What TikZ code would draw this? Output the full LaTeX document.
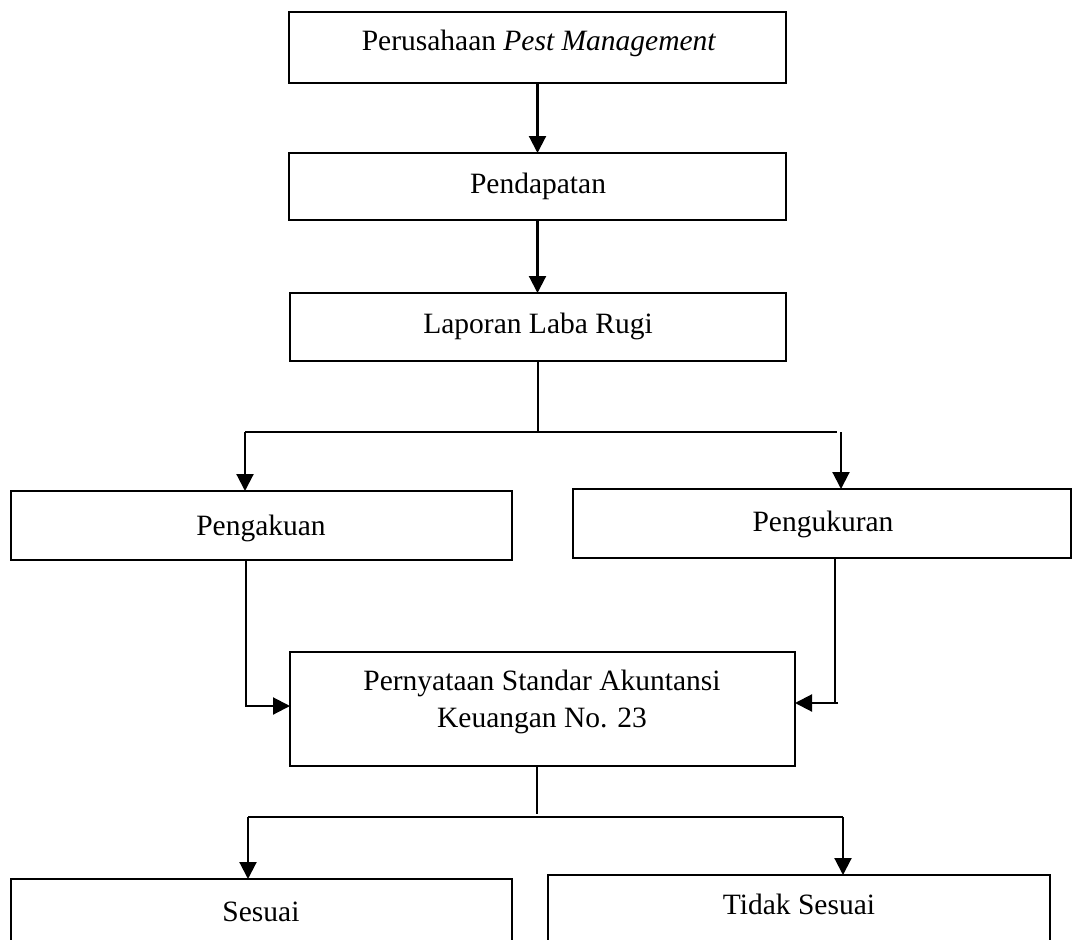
\documentclass[tikz,border=0pt]{standalone}
\usepackage{fontspec}
\setmainfont{Liberation Serif}
\usetikzlibrary{arrows.meta}
\tikzset{
  box/.style={draw, line width=2.4pt, inner sep=0pt, outer sep=0pt, rectangle},
  lbl/.style={anchor=base, inner sep=0pt, font=\fontsize{29.5}{34}\selectfont},
  conn/.style={line width=2.1pt},
  arr/.style={conn, -{Triangle[length=17pt,width=17pt]}}
}
\begin{document}
\begin{tikzpicture}[x=1pt,y=-1pt]
\useasboundingbox (0,0) rectangle (1072,940);
% boxes
\node[box, minimum width=497pt, minimum height=71pt] (top) at (537.5,47.5) {};
\node[box, minimum width=497pt, minimum height=67pt] (pend) at (537.5,186.5) {};
\node[box, minimum width=496pt, minimum height=68pt] (lap) at (538,327) {};
\node[box, minimum width=501pt, minimum height=69pt] (ack) at (261.5,525.5) {};
\node[box, minimum width=498pt, minimum height=69pt] (ukr) at (822,523.5) {};
\node[box, minimum width=505pt, minimum height=114pt] (psak) at (542.5,709) {};
\node[box, minimum width=501pt, minimum height=121pt] (ses) at (261.5,939.5) {};
\node[box, minimum width=502pt, minimum height=125pt] (tid) at (799,937.5) {};
% texts
\node[lbl] (ttop) at (539,50) {Perusahaan \textit{Pest Management}};
\node[lbl] (tpend) at (538,193) {Pendapatan};
\node[lbl] (tlap) at (538,333) {Laporan Laba Rugi};
\node[lbl] (tack) at (261,535) {Pengakuan};
\node[lbl] (tukr) at (823,531) {Pengukuran};
\node[lbl] (tpsak1) at (542,690) {Pernyataan Standar Akuntansi};
\node[lbl] (tpsak2) at (542,727) {Keuangan No. 23};
\node[lbl] (tses) at (261,921) {Sesuai};
\node[lbl] (ttid) at (799,914) {Tidak Sesuai};
% coordinates
\coordinate (hl) at (245,432);
\coordinate (hr) at (837,432);
\coordinate (vr) at (841,432);
\coordinate (la) at (246,706);
\coordinate (ra) at (835,703);
\coordinate (rb) at (838,703);
\coordinate (bm) at (537,814);
\coordinate (bl) at (248,817);
\coordinate (br) at (843,817);
% connectors
\draw[arr] (top.south) -- (pend.north);
\draw[arr] (pend.south) -- (pend.south |- lap.north);
\draw[conn] (lap.south) -- (lap.south |- hl);
\draw[conn] (hl) -- (hr);
\draw[arr] (hl) -- (hl |- ack.north);
\draw[arr] (vr) -- (vr |- ukr.north);
\draw[arr] (la |- ack.south) -- (la) -- (la -| psak.west);
\draw[conn] (ra |- ukr.south) -- (ra);
\draw[arr] (rb) -- (rb -| psak.east);
\draw[conn] (bm |- psak.south) -- (bm);
\draw[conn] (bl) -- (br);
\draw[arr] (bl) -- (bl |- ses.north);
\draw[arr] (br) -- (br |- tid.north);
\end{tikzpicture}
\end{document}
